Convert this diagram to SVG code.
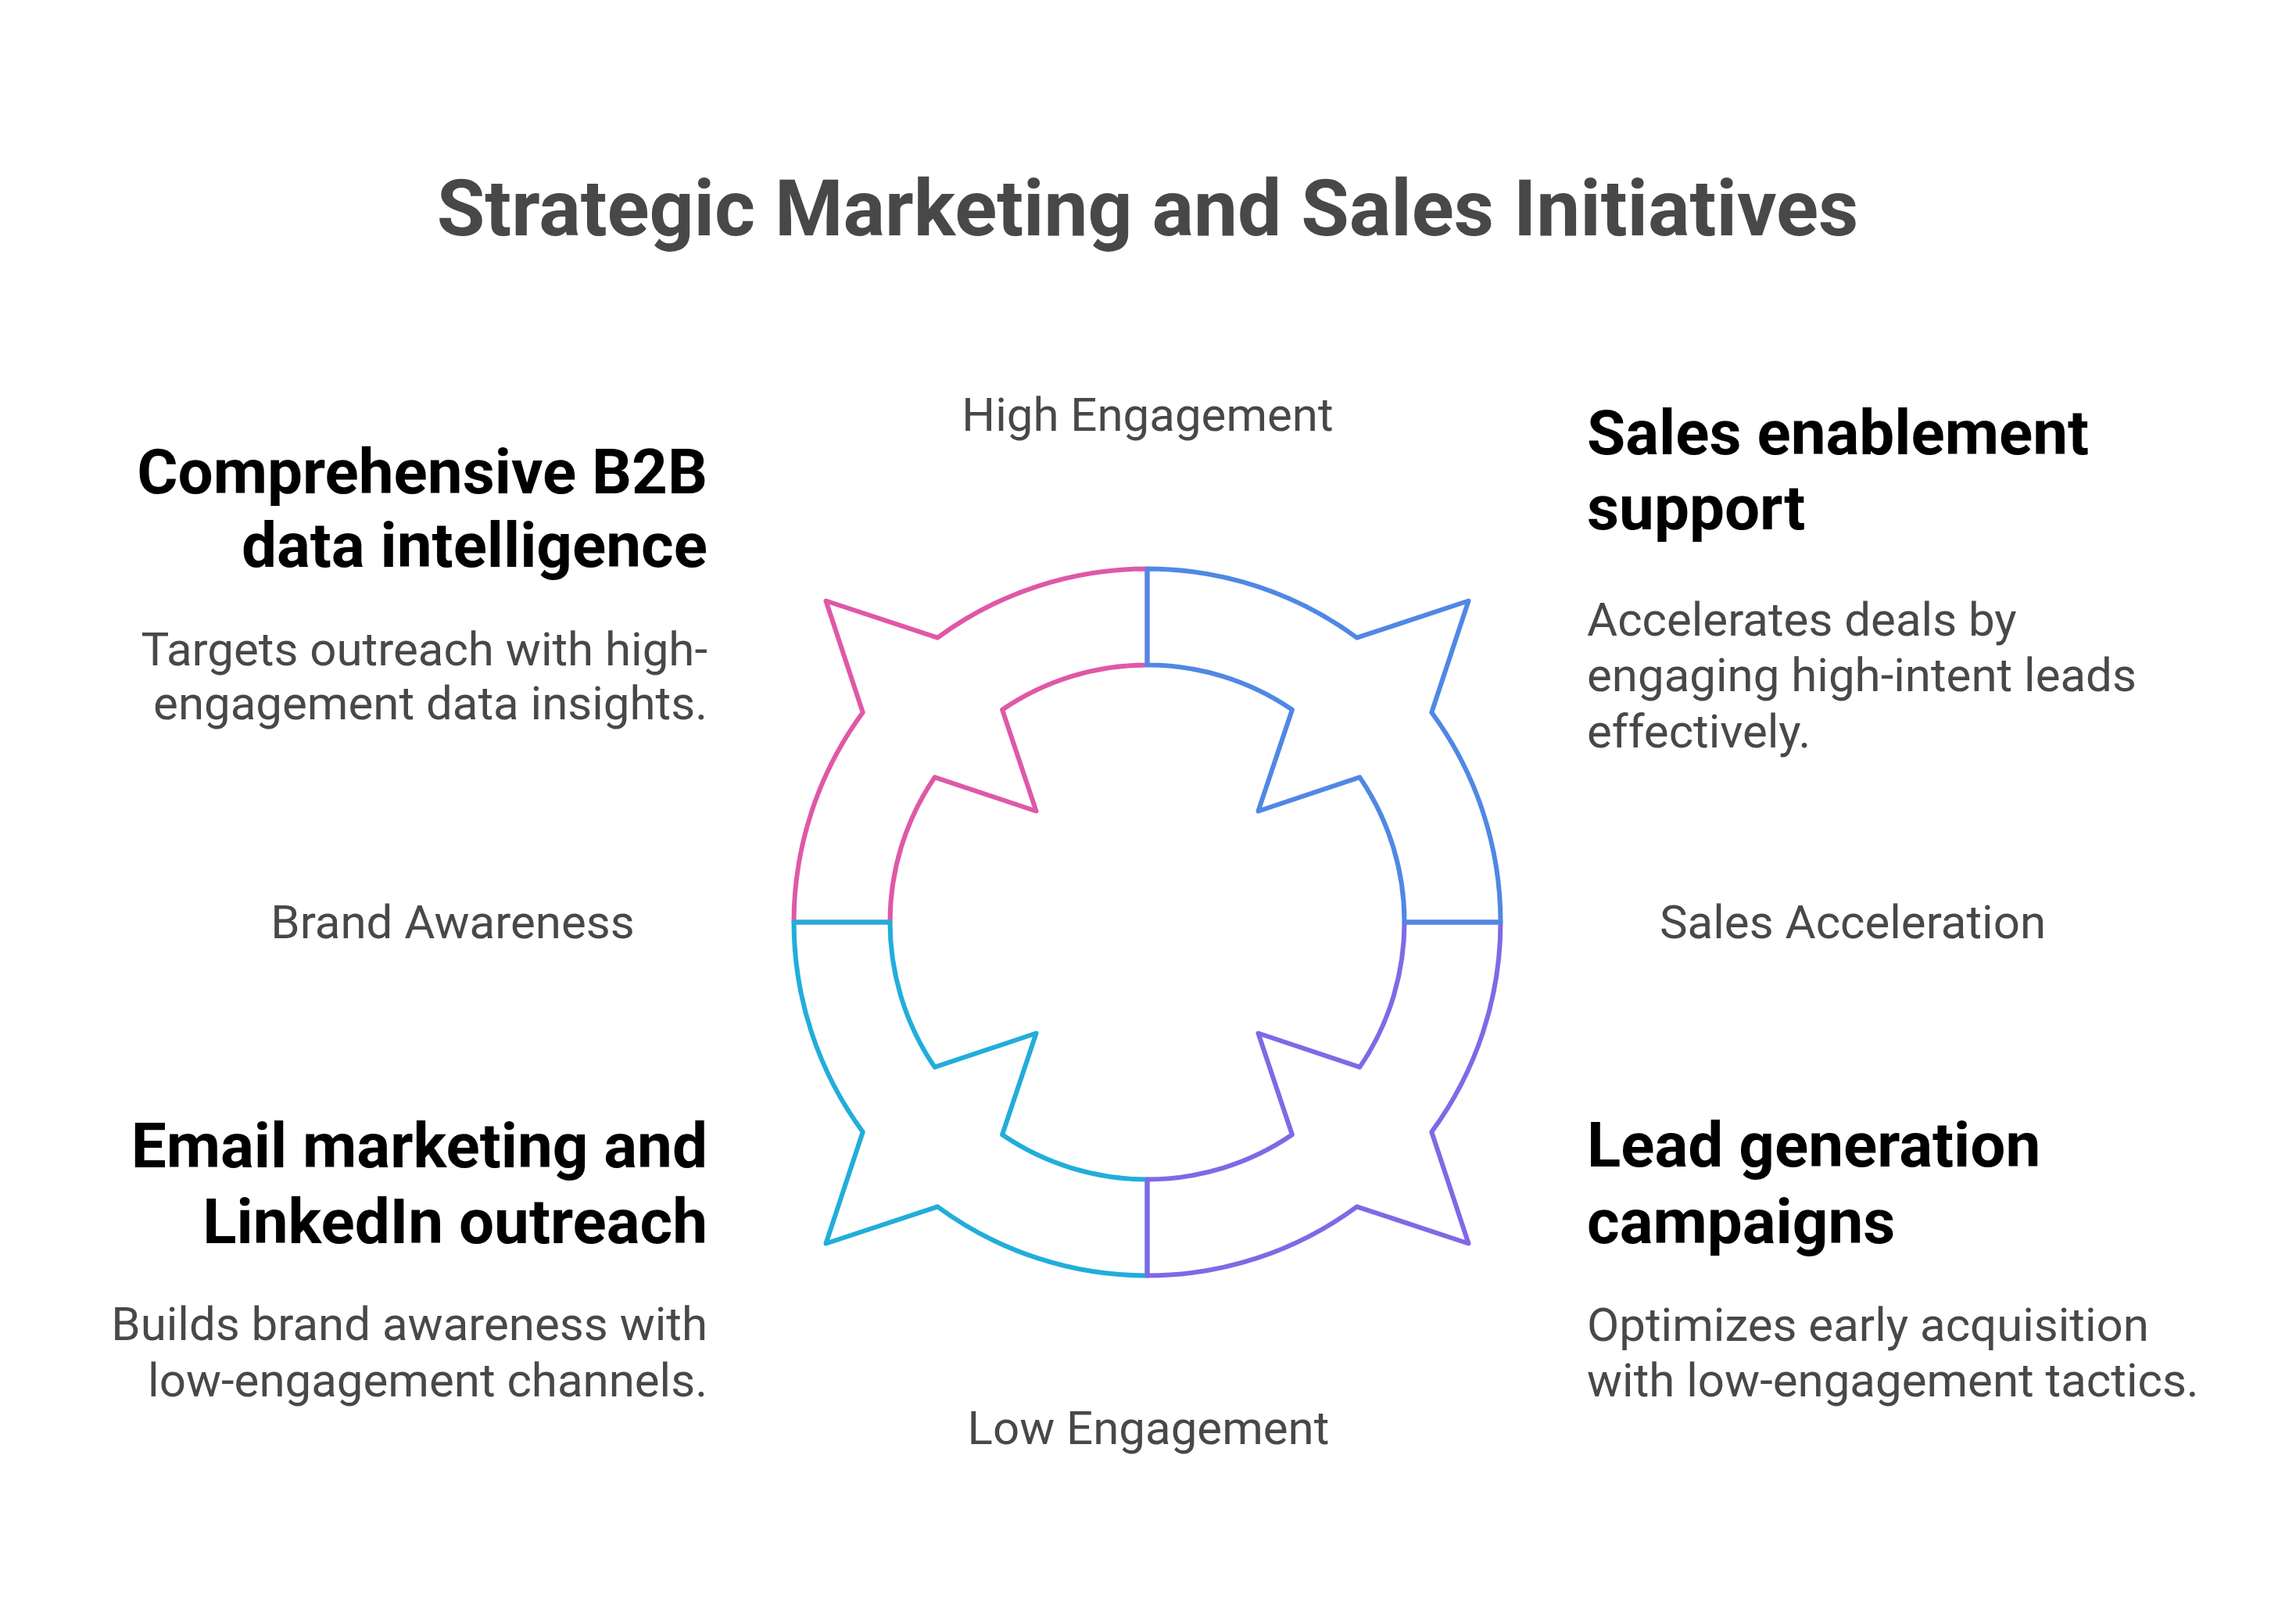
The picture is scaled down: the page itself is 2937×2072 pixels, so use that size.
<svg xmlns="http://www.w3.org/2000/svg" width="2937" height="2072" viewBox="0 0 2937 2072">
<style>
.title{font-family:Roboto,"Liberation Sans",sans-serif;font-weight:700;font-size:100px;fill:#484848}
.head{font-family:Roboto,"Liberation Sans",sans-serif;font-weight:700;font-size:80px;fill:#000}
.desc{font-family:Roboto,"Liberation Sans",sans-serif;font-weight:400;font-size:60px;fill:#484848}
.axis{font-family:Roboto,"Liberation Sans",sans-serif;font-weight:400;font-size:60px;fill:#484848}
.seg{fill:none;stroke-width:6;stroke-linejoin:round;stroke-linecap:round}
</style>
<rect width="2937" height="2072" fill="#fff"/>
<text class="title" x="1468" y="301" text-anchor="middle">Strategic Marketing and Sales Initiatives</text>
<g id="connectors">
<path id="seg-tl" class="seg" stroke="#DF58A7" d="M1015.5,1179.5 A452,452 0 0 1 1103.7,911.3 L1056.5,768.5 L1199.3,815.7 A452,452 0 0 1 1467.5,727.5 L1467.5,850.5 A329,329 0 0 0 1282.1,907.7 L1325.5,1037.5 L1195.7,994.1 A329,329 0 0 0 1138.5,1179.5 Z"/>
<path id="seg-bl" class="seg" stroke="#22ADDB" d="M1467.5,1631.5 A452,452 0 0 1 1199.3,1543.3 L1056.5,1590.5 L1103.7,1447.7 A452,452 0 0 1 1015.5,1179.5 L1138.5,1179.5 A329,329 0 0 0 1195.7,1364.9 L1325.5,1321.5 L1282.1,1451.3 A329,329 0 0 0 1467.5,1508.5 Z"/>
<path id="seg-br" class="seg" stroke="#8168E6" d="M1919.5,1179.5 A452,452 0 0 1 1831.3,1447.7 L1878.5,1590.5 L1735.7,1543.3 A452,452 0 0 1 1467.5,1631.5 L1467.5,1508.5 A329,329 0 0 0 1652.9,1451.3 L1609.5,1321.5 L1739.3,1364.9 A329,329 0 0 0 1796.5,1179.5 Z"/>
<path id="seg-tr" class="seg" stroke="#4F88E4" d="M1467.5,727.5 A452,452 0 0 1 1735.7,815.7 L1878.5,768.5 L1831.3,911.3 A452,452 0 0 1 1919.5,1179.5 L1796.5,1179.5 A329,329 0 0 0 1739.3,994.1 L1609.5,1037.5 L1652.9,907.7 A329,329 0 0 0 1467.5,850.5 Z"/>
</g>
<g id="axis-labels">
<text class="axis" x="1468" y="551" text-anchor="middle">High Engagement</text>
<text class="axis" x="1469" y="1847" text-anchor="middle">Low Engagement</text>
<text class="axis" x="579" y="1200" text-anchor="middle">Brand Awareness</text>
<text class="axis" x="2370" y="1200" text-anchor="middle">Sales Acceleration</text>
</g>
<g id="node-b2b">
<text class="head" x="905" y="631" text-anchor="end">Comprehensive B2B</text>
<text class="head" x="905" y="725" text-anchor="end">data intelligence</text>
<text class="desc" x="905" y="851" text-anchor="end">Targets outreach with high-</text>
<text class="desc" x="905" y="920" text-anchor="end">engagement data insights.</text>
</g>
<g id="node-sales">
<text class="head" x="2030" y="581">Sales enablement</text>
<text class="head" x="2030" y="677">support</text>
<text class="desc" x="2030" y="813">Accelerates deals by</text>
<text class="desc" x="2030" y="884">engaging high-intent leads</text>
<text class="desc" x="2030" y="956">effectively.</text>
</g>
<g id="node-email">
<text class="head" x="905" y="1493" text-anchor="end">Email marketing and</text>
<text class="head" x="905" y="1590" text-anchor="end">LinkedIn outreach</text>
<text class="desc" x="905" y="1714" text-anchor="end">Builds brand awareness with</text>
<text class="desc" x="905" y="1786" text-anchor="end">low-engagement channels.</text>
</g>
<g id="node-lead">
<text class="head" x="2030" y="1492">Lead generation</text>
<text class="head" x="2030" y="1590">campaigns</text>
<text class="desc" x="2030" y="1715">Optimizes early acquisition</text>
<text class="desc" x="2030" y="1786">with low-engagement tactics.</text>
</g>
</svg>
